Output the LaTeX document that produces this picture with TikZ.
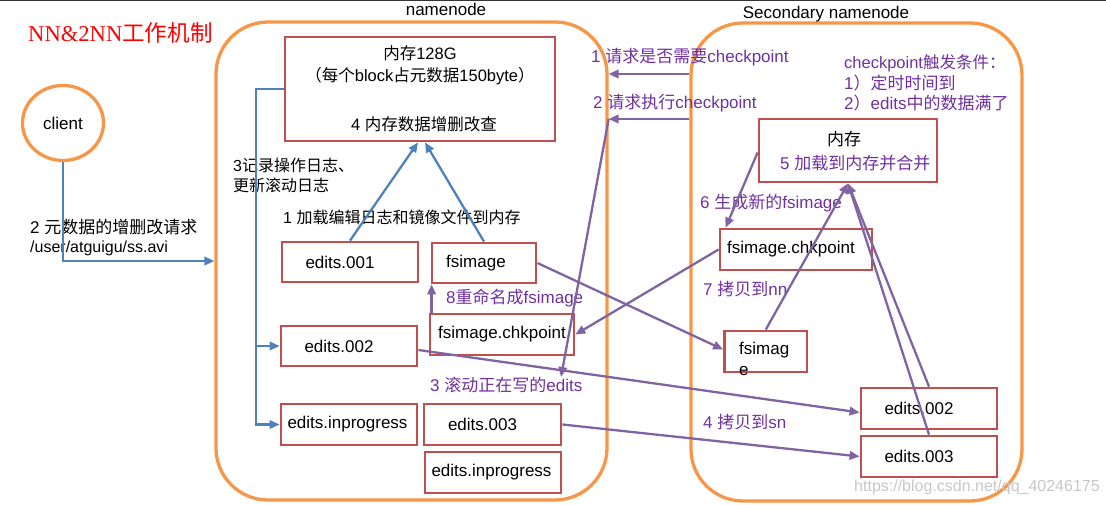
\documentclass[tikz,border=0pt]{standalone}
\usepackage{fontspec}
\setmainfont{Liberation Sans}
\newfontfamily\cjkf{Noto Sans CJK SC}
\newfontfamily\serf{Liberation Serif}
\usetikzlibrary{shapes.geometric,arrows.meta,calc}
\newcommand\C[1]{{\cjkf #1}}
\definecolor{org}{HTML}{F79646}
\definecolor{bred}{HTML}{C0504D}
\definecolor{bblue}{HTML}{4F81BD}
\definecolor{ppl}{HTML}{8064A2}
\definecolor{ptxt}{HTML}{7030A0}
\tikzset{
  cont/.style={draw=org, line width=3.3pt, rounded corners=52pt, inner sep=0pt},
  rbox/.style={draw=bred, line width=2.8pt, inner sep=0pt, font=\fontsize{17}{20}\selectfont},
  txt/.style={inner sep=0pt, anchor=west, font=\fontsize{17}{20}\selectfont},
  ptx/.style={txt, text=ptxt},
  barrow/.style={draw=bblue, line width=2.3pt, -{Triangle[length=10pt,width=8.5pt]}},
  parrow/.style={draw=ppl, line width=2.3pt, -{Triangle[length=10pt,width=8.5pt]}},
}
\begin{document}
\begin{tikzpicture}[x=1pt,y=-1pt]
\useasboundingbox (0,0) rectangle (1106,505);
\draw[line width=1.5pt, black!80] (0,0.75) -- (1106,0.75);

% title
\node[anchor=west, inner sep=0pt, text=red, font=\fontsize{22.6}{26}\selectfont] (title) at (28,33) {{\serf NN\&2NN}\C{工作机制}};

% containers
\node[cont, minimum width=391pt, minimum height=478pt] (nn) at (411.5,261) {};
\node[cont, minimum width=331pt, minimum height=478pt] (sn) at (856.5,262) {};
\node[txt, anchor=center] (nnlab) at (446,9) {namenode};
\node[txt, anchor=center] (snlab) at (826,14) {Secondary namenode};

% client
\node[ellipse, draw=org, line width=3.3pt, minimum width=81pt, minimum height=75pt, inner sep=0pt, font=\fontsize{17}{20}\selectfont] (client) at (63,123) {client};

% namenode boxes
\node[rbox, minimum width=270pt, minimum height=104pt] (mem) at (420,89) {};
\node[txt, anchor=center, font=\fontsize{16.5}{20}\selectfont] (m1) at (420,53) {\C{内存}128G};
\node[txt, anchor=center, font=\fontsize{16.5}{20}\selectfont] (m2) at (420,76) {\C{（每个}block\C{占元数据}150byte\C{）}};
\node[txt, anchor=center, font=\fontsize{16.5}{20}\selectfont] (m3) at (424,124) {4 \C{内存数据增删改查}};

\node[rbox, minimum width=136pt, minimum height=40pt] (e1) at (350,262) {edits.001\hspace*{20pt}};
\node[rbox, minimum width=104pt, minimum height=40pt] (fs) at (484,263) {fsimage\hspace*{16pt}};
\node[rbox, minimum width=144pt, minimum height=41pt] (ck) at (502,334.5) {fsimage.chkpoint};
\node[rbox, minimum width=136pt, minimum height=40pt] (e2) at (349,346) {edits.002\hspace*{20pt}};
\node[rbox, minimum width=136pt, minimum height=41pt] (ein) at (349,424.5) {edits.inprogress\hspace*{3pt}};
\node[rbox, minimum width=137pt, minimum height=41pt] (e3) at (492.5,424.5) {edits.003\hspace*{20pt}};
\node[rbox, minimum width=136pt, minimum height=41pt] (ein2) at (493,472.5) {edits.inprogress\hspace*{3pt}};

% secondary boxes
\node[rbox, minimum width=178pt, minimum height=63pt] (smem) at (848,150.5) {};
\node[txt, anchor=center] (sm1) at (844,139) {\C{内存}};
\node[ptx] (p5) at (780,163) {5 \C{加载到内存并合并}};
\node[rbox, minimum width=152pt, minimum height=41pt] (sck) at (796,249.5) {fsimage.chkpoint\hspace*{10pt}};
\node[rbox, minimum width=82.5pt, minimum height=41pt] (sfs) at (765.75,351.5) {};
\node[txt] (sfs1) at (739,350) {fsimag};
\node[txt] (sfs2) at (739,371) {e};
\node[rbox, minimum width=136pt, minimum height=41pt] (se2) at (929,408.5) {edits.002\hspace*{20pt}};
\node[rbox, minimum width=136pt, minimum height=41pt] (se3) at (929,456.5) {edits.003\hspace*{20pt}};

% black labels
\node[txt, font=\fontsize{16}{20}\selectfont] (l1) at (283,217) {1 \C{加载编辑日志和镜像文件到内存}};
\node[txt, font=\fontsize{16}{20}\selectfont] (l3a) at (233,165) {3\C{记录操作日志、}};
\node[txt, font=\fontsize{16}{20}\selectfont] (l3b) at (233,185) {\C{更新滚动日志}};
\node[txt] (l2a) at (30,227) {2 \C{元数据的增删改请求}};
\node[txt, font=\fontsize{16}{20}\selectfont] (l2b) at (30,248) {/user/atguigu/ss.avi};

% purple labels
\node[ptx] (p1) at (591,57) {1 \C{请求是否需要}checkpoint};
\node[ptx] (p2) at (593,103) {2 \C{请求执行}checkpoint};
\node[ptx] (p3) at (430,385) {3 \C{滚动正在写的}edits};
\node[ptx] (p8) at (446,298) {8\C{重命名成}fsimage};
\node[ptx] (p4) at (703,422) {4 \C{拷贝到}sn};
\node[ptx] (p6) at (700,203) {6 \C{生成新的}fsimage};
\node[ptx] (p7) at (703,289) {7 \C{拷贝到}nn};
\node[ptx, font=\fontsize{16.5}{20}\selectfont] (c1) at (844,63) {checkpoint\C{触发条件：}};
\node[ptx] (c2) at (844,83) {1\C{）定时时间到}};
\node[ptx] (c3) at (844,103) {2\C{）}edits\C{中的数据满了}};

% watermark
\node[txt, text=black!22, font=\fontsize{16}{20}\selectfont] (wm) at (854,487) {https://blog.csdn.net/qq\_40246175};

% blue connectors
\coordinate (bus) at (256,0);
\draw[barrow] (client.south) |- (nn.west);
\draw[barrow] (mem.west) -| (bus |- ein.west) -- (ein.west);
\draw[barrow] (bus |- e2.west) -- (e2.west);
\draw[barrow] (e1.north) -- ([xshift=-2pt]mem.south);
\draw[barrow] (fs.north) -- ([xshift=5pt]mem.south);

% purple connectors
\coordinate (r1) at (0,74);
\coordinate (r2) at (0,119);
\coordinate (rollend) at (561,377);
\draw[parrow] (sn.west |- r1) -- (nn.east |- r1);
\draw[parrow] (sn.west |- r2) -- (nn.east |- r2);
\draw[parrow] (nn.east |- r2) -- (rollend);
\draw[parrow] ([xshift=3pt]ck.north west) -- ([xshift=1pt]fs.south west);
\draw[parrow] (fs.east) -- ([yshift=2pt]sfs.west);
\draw[parrow] (sck.west) -- (ck.east);
\draw[parrow] ([yshift=-4pt]e2.east) -- ([yshift=-4pt]se2.west);
\draw[parrow] (e3.east) -- (se3.west);
\draw[parrow] ([yshift=-2pt]smem.west) -- ([xshift=7pt]sck.north west);
\draw[parrow] (sfs.north) -- (smem.south);
\draw[parrow] (se2.north) -- (smem.south);
\draw[parrow] (se3.north) -- (smem.south);
\end{tikzpicture}
\end{document}
